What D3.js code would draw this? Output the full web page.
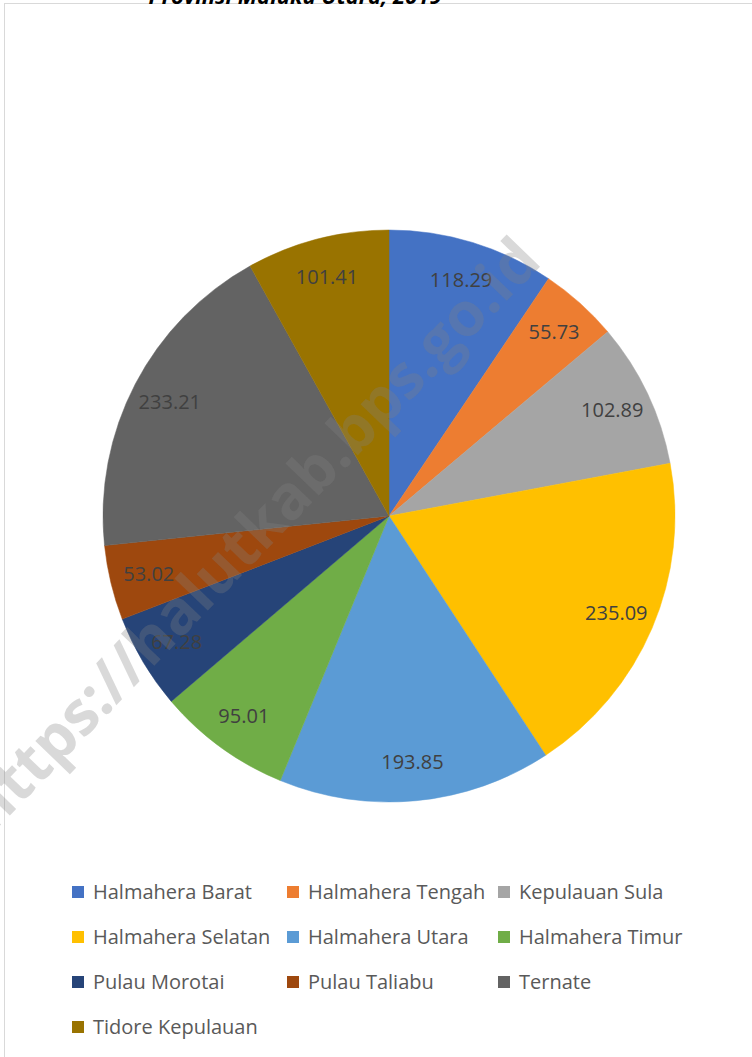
<!DOCTYPE html>
<html>
<head>
<meta charset="utf-8">
<script src="https://cdn.jsdelivr.net/npm/d3@7"></script>
<style>
  html, body { margin: 0; padding: 0; background: #fff; }
  svg { display: block; }
</style>
</head>
<body>
<svg id="chart" width="752" height="1057"></svg>
<script>
const title = "Provinsi Maluku Utara, 2019";
const categories = ["Halmahera Barat", "Halmahera Tengah", "Kepulauan Sula", "Halmahera Selatan", "Halmahera Utara", "Halmahera Timur", "Pulau Morotai", "Pulau Taliabu", "Ternate", "Tidore Kepulauan"];
const values = [118.29, 55.73, 102.89, 235.09, 193.85, 95.01, 67.28, 53.02, 233.21, 101.41];
const colors = ["#4472C4", "#ED7D31", "#A5A5A5", "#FFC000", "#5B9BD5", "#70AD47", "#264478", "#9E480E", "#636363", "#997300"];
const watermark = "https://halutkab.bps.go.id";

const svg = d3.select("#chart");
const cx = 389, cy = 516, R = 286;

// chart border
svg.append("rect").attr("x", 4.5).attr("y", 3.5).attr("width", 900).attr("height", 1200)
  .attr("fill", "#fff").attr("stroke", "#d9d9d9").attr("stroke-width", 1);

// title (cut off at the top edge, as in the reference)
svg.append("text").attr("x", 295).attr("y", 4)
  .attr("text-anchor", "middle")
  .attr("font-family", "Open Sans, sans-serif").attr("font-weight", "bold").attr("font-style", "italic")
  .attr("font-size", 22).attr("fill", "#000").text(title);

const color = d3.scaleOrdinal().domain(categories).range(colors);
const data = categories.map((c, i) => ({ name: c, value: values[i] }));
const pie = d3.pie().sort(null).value(d => d.value);
const arcs = pie(data);
const arc = d3.arc().innerRadius(0).outerRadius(R);
const labelArc = d3.arc().innerRadius(R * 0.864).outerRadius(R * 0.864);

const g = svg.append("g").attr("transform", `translate(${cx},${cy})`);
g.selectAll("path.slice").data(arcs).join("path")
  .attr("class", "slice")
  .attr("d", arc)
  .attr("fill", d => color(d.data.name))
  .attr("stroke", d => color(d.data.name))
  .attr("stroke-width", 0.5);

g.selectAll("text.lbl").data(arcs).join("text")
  .attr("class", "lbl")
  .attr("transform", d => `translate(${labelArc.centroid(d)})`)
  .attr("text-anchor", "middle").attr("dy", "0.35em")
  .attr("font-family", "Open Sans, sans-serif").attr("font-size", 20)
  .attr("fill", "#404040")
  .text(d => d3.format(".2f")(d.data.value));

// legend
const legend = svg.append("g");
const colX = [72, 287, 498];
const rowY0 = 892, rowH = 45;
categories.forEach((c, i) => {
  const col = i % 3, row = Math.floor(i / 3);
  const lg = legend.append("g").attr("transform", `translate(${colX[col]},${rowY0 + row * rowH})`);
  lg.append("rect").attr("x", 0).attr("y", -6).attr("width", 12).attr("height", 12).attr("fill", color(c));
  lg.append("text").attr("x", 21).attr("y", 0).attr("dy", "0.35em")
    .attr("font-family", "Open Sans, sans-serif").attr("font-size", 20)
    .attr("fill", "#595959").text(c);
});

// watermark
svg.append("text")
  .attr("transform", "translate(252,534) rotate(-46)")
  .attr("text-anchor", "middle").attr("dy", "0.35em")
  .attr("font-family", "Open Sans, sans-serif").attr("font-weight", "bold")
  .attr("font-size", 61).attr("fill", "#808080").attr("fill-opacity", 0.3)
  .text(watermark);
</script>
</body>
</html>
